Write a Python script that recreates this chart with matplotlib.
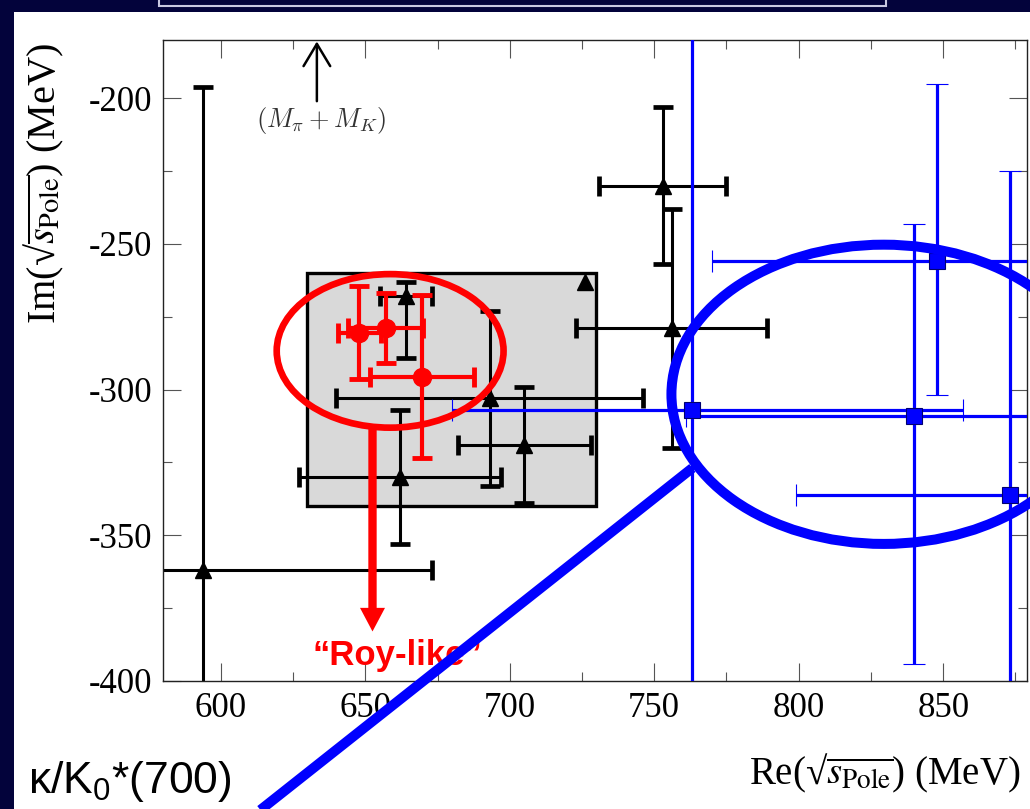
import numpy as np
import matplotlib as mpl
import matplotlib.pyplot as plt
from matplotlib.patches import Ellipse, Rectangle
from matplotlib.ticker import MultipleLocator

mpl.rcParams['font.family'] = 'Liberation Serif'
mpl.rcParams['axes.unicode_minus'] = False
mpl.rcParams['mathtext.rm'] = 'Liberation Sans'
mpl.rcParams['mathtext.it'] = 'Liberation Sans:italic'

## pole positions (MeV)
# black triangles
tri_re = np.array([594, 662, 664, 693, 705, 726, 753, 756])
tri_im = np.array([-362, -330, -268, -303, -319, -263, -230, -279])
tri_re_err = np.array([79, 35, 9, 53, 23, 0, 22, 33])
tri_im_lo = np.array([166, 23, 21, 30, 20, 0, 27, 41])
tri_im_hi = np.array([166, 23, 5, 30, 20, 0, 27, 41])

# red circles ("Roy-like")
roy_re = np.array([648, 657, 669.5])
roy_im = np.array([-280.5, -279, -295.5])
roy_re_err = np.array([7.5, 13, 18])
roy_im_err = np.array([16, 12, 28])

# blue squares
sq_re = np.array([763, 840, 848, 873])
sq_im = np.array([-307, -309, -256, -336])
sq_re_lo = np.array([83, 79, 78, 74])
sq_re_hi = np.array([94, 79, 78, 74])
sq_im_lo = np.array([200, 85, 46, 111])
sq_im_hi = np.array([200, 66, 61, 111])

# shaded region
box_re = (630, 730)
box_im = (-340, -260)

m_pi_plus_m_k = 139.57 + 493.68

navy = '#03033b'
blue = '#0000ff'
red = '#ff0000'

## figure
fig = plt.figure(figsize=(10.30, 8.09), dpi=100, facecolor=navy)
W, H = 1030., 809.
fig.patches.append(Rectangle((14 / W, 0), 1, (H - 12) / H, transform=fig.transFigure,
                             facecolor='white', edgecolor='none', zorder=-5))
fig.patches.append(Rectangle((159 / W, (H - 6) / H), (886 - 159) / W, 0.05, transform=fig.transFigure,
                             facecolor=navy, edgecolor='#c8c8e0', lw=1.5, zorder=-4))

ax = fig.add_axes([163 / W, 128 / H, 864 / W, 641 / H])
ax.set_facecolor('white')

ax.add_patch(Rectangle((box_re[0], box_im[0]), box_re[1] - box_re[0], box_im[1] - box_im[0],
                       facecolor='#d9d9d9', edgecolor='black', lw=2.4, zorder=1))

# black
has = tri_re_err > 0
ax.errorbar(tri_re[has], tri_im[has], xerr=tri_re_err[has], yerr=[tri_im_lo[has], tri_im_hi[has]],
            fmt='none', ecolor='black', elinewidth=2.2, capsize=7.5, capthick=3.4, zorder=2)
ax.plot(tri_re, tri_im, '^', color='black', ms=11, zorder=3)

# blue
ax.errorbar(sq_re, sq_im, xerr=[sq_re_lo, sq_re_hi], yerr=[sq_im_lo, sq_im_hi],
            fmt='s', color=blue, ms=11.5, mec='#000070', mew=0.8,
            ecolor=blue, elinewidth=2.3, capsize=8, capthick=3.2, zorder=3)

# red
ax.errorbar(roy_re, roy_im, xerr=roy_re_err, yerr=roy_im_err,
            fmt='o', color=red, ms=13, ecolor=red, elinewidth=3, capsize=7.5, capthick=3.5, zorder=4)

ax.set_xlim(580, 879)
ax.set_ylim(-400, -180)
ax.xaxis.set_major_locator(MultipleLocator(50))
ax.xaxis.set_minor_locator(MultipleLocator(25))
ax.yaxis.set_major_locator(MultipleLocator(50))
ax.yaxis.set_minor_locator(MultipleLocator(25))
ax.tick_params(which='both', direction='in', top=True, right=True, color='#555555', width=0.8)
ax.tick_params(which='major', length=13, labelsize=25, pad=8)
ax.tick_params(which='minor', length=6.5)
for s in ax.spines.values():
    s.set_linewidth(1.0)
    s.set_color('#222222')

root_s = r'√$\overline{s_{\mathrm{Pole}}}$'
ax.set_xlabel('Re(' + root_s + ') (MeV)', fontsize=28, math_fontfamily='stix', ha='right')
ax.xaxis.set_label_coords((1020 - 163) / 864, (681 - 752) / 641)
ax.set_ylabel('Im(' + root_s + ') (MeV)', fontsize=29, math_fontfamily='stix')
ax.yaxis.set_label_coords((66 - 163) / 864, (681 - 183) / 641)

# threshold marker
ax.annotate('', xy=(m_pi_plus_m_k, -180.5), xytext=(m_pi_plus_m_k, -201),
            arrowprops=dict(arrowstyle='->,head_length=0.4,head_width=0.24', mutation_scale=40,
                            lw=1.8, color='black', shrinkA=0, shrinkB=0), zorder=5)
ax.text(m_pi_plus_m_k + 1.5, -207.7, r'$(M_\pi+M_K)$', fontsize=19, color='#333333',
        math_fontfamily='cm', ha='center', va='center')

# highlight of the Roy-like solutions
ax.add_patch(Ellipse((658.6, -286.7), 78.5, 52.7, fill=False, edgecolor=red, lw=4.8, zorder=6))
ax.annotate('', xy=(652.5, -383), xytext=(652.5, -313.5),
            arrowprops=dict(width=6, headwidth=18, headlength=17, facecolor=red,
                            edgecolor='none', shrink=0), zorder=6)
ax.text(661, -394.6, '\u201cRoy-like\u201d', fontsize=25, fontweight='bold', color=red,
        family='Liberation Sans', ha='center', va='baseline', zorder=7)

# highlight of the other group
ax.add_patch(Ellipse((829.4, -301.6), 146.9, 102.7, fill=False, edgecolor=blue, lw=7.2,
                     zorder=8, clip_on=False))
ax.plot([763.2, 604.5], [-326.9, -451.5], color=blue, lw=7.2, solid_capstyle='butt',
        zorder=8, clip_on=False)

fig.text(28 / W, (H - 793) / H, r'κ/K$_0$*(700)', fontsize=32, color='black',
         family='Liberation Sans', math_fontfamily='custom', ha='left', va='baseline')

fig.savefig('out.png', dpi=100, facecolor=navy)
